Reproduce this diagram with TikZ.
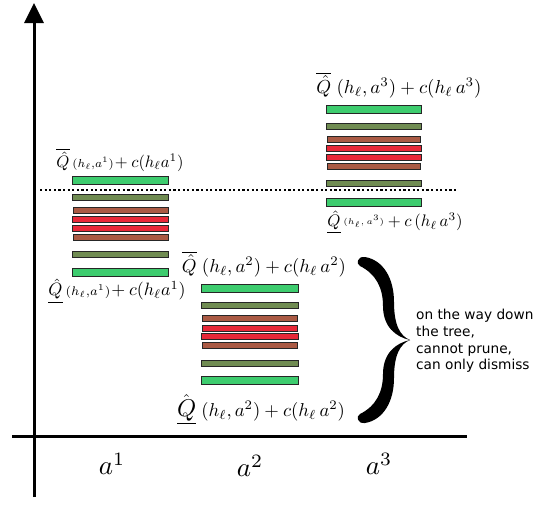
\documentclass[tikz,border=0pt]{standalone}
\usepackage{amsmath}
\usepackage{graphicx}
\usepackage{fontspec}
\newfontfamily\dejavu{DejaVu Sans}
\usetikzlibrary{arrows.meta}
\definecolor{gbar}{RGB}{61,204,110}
\definecolor{obar}{RGB}{112,140,82}
\definecolor{bbar}{RGB}{170,90,68}
\definecolor{rbar}{RGB}{232,40,56}
\tikzset{
  axis/.style={line width=3pt, black},
  bar/.style={draw=black!85, line width=0.8pt},
  gb/.style={bar, fill=gbar},
  ob/.style={bar, fill=obar},
  bb/.style={bar, fill=bbar},
  rb/.style={bar, fill=rbar},
  lbl/.style={inner sep=0pt, anchor=center},
  axl/.style={inner sep=0pt},
  note/.style={inner sep=0pt, align=left, anchor=north west, font=\dejavu\fontsize{13.7}{16.7}\selectfont}
}
\begin{document}
\begin{tikzpicture}[x=1pt,y=-1pt]
\useasboundingbox (0,0) rectangle (551,504);
% axes
\coordinate (ybot) at (34,497);
\coordinate (ytop) at (34,3);
\coordinate (xl) at (12,436);
\coordinate (xr) at (467,436);
\draw[axis, -{Triangle[width=19pt,length=20pt]}] (ybot) -- (ytop);
\draw[axis] (xl) -- (xr);
% dotted threshold
\coordinate (dl) at (40,190);
\coordinate (dr) at (458,190);
\draw[line width=2.2pt, dash pattern=on 2.2pt off 2.4pt] (dl) -- (dr);
% column a1
\draw[gb] (72,176) rectangle (168,184);
\draw[ob] (72,194) rectangle (168,200);
\draw[bb] (73,207) rectangle (168,213);
\draw[rb] (72,216) rectangle (168,222);
\draw[rb] (72,225) rectangle (168,231);
\draw[bb] (73,234) rectangle (168,240);
\draw[ob] (72,251) rectangle (168,257);
\draw[gb] (72,268) rectangle (168,276);
% column a2
\draw[gb] (201,284) rectangle (298,292);
\draw[ob] (201,302) rectangle (298,308);
\draw[bb] (202,315) rectangle (297,321);
\draw[rb] (202,325) rectangle (297,331);
\draw[rb] (201,333) rectangle (298,339);
\draw[bb] (202,342) rectangle (297,348);
\draw[ob] (201,360) rectangle (298,366);
\draw[gb] (201,376) rectangle (298,384);
% column a3
\draw[gb] (326,105) rectangle (421,113);
\draw[ob] (326,123) rectangle (421,129);
\draw[bb] (327,136) rectangle (420,142);
\draw[rb] (326,145) rectangle (421,151);
\draw[rb] (326,154) rectangle (421,160);
\draw[bb] (327,163) rectangle (420,169);
\draw[ob] (326,180) rectangle (421,186);
\draw[gb] (326,198) rectangle (421,206);
% labels
\node[lbl] (t1) at (120,160) {\resizebox{127pt}{!}{$\overline{\hat{Q}}\,{\scriptstyle(h_\ell,a^1)}\!+c(h_\ell a^1)$}};
\node[lbl] (b1) at (117,291) {\resizebox{137pt}{!}{$\underline{\hat{Q}}\,{\scriptstyle(h_\ell,a^1)}\!+c(h_\ell a^1)$}};
\node[lbl] (t2) at (264,264) {\resizebox{164pt}{!}{$\overline{\hat{Q}}\;(h_\ell,a^2)+c(h_\ell\,a^2)$}};
\node[lbl] (b2) at (261,410) {\resizebox{168pt}{!}{$\underline{\hat{\scalebox{1.3}{$Q$}}}\;(h_\ell,a^2)+c(h_\ell\,a^2)$}};
\node[lbl] (t3) at (399,85) {\resizebox{165pt}{!}{$\overline{\hat{Q}}\;(h_\ell,a^3)+c(h_\ell\,a^3)$}};
\node[lbl] (b3) at (395,222) {\resizebox{135pt}{!}{$\underline{\hat{Q}}\,\raisebox{1.5pt}{$\scriptscriptstyle(h_\ell,\,a^3)$}+c\,(h_\ell\,a^3)$}};
% axis labels
\node[axl] (a1) at (112,464) {\scalebox{2.7}{$a^1$}};
\node[axl] (a2) at (250,466) {\scalebox{2.7}{$a^2$}};
\node[axl] (a3) at (379,464) {\scalebox{2.7}{$a^3$}};
% brace
\fill (410,340) .. controls (396,337) and (383,327) .. (383,306)
  .. controls (383,288) and (376,274) .. (360,266)
  .. controls (356,264) and (357,256) .. (365,257)
  .. controls (383,260) and (394,278) .. (394,302)
  .. controls (394,325) and (400,336) .. (410,340) -- cycle;
\fill (410,340) .. controls (396,343) and (383,353) .. (383,374)
  .. controls (383,392) and (376,406) .. (360,414)
  .. controls (356,416) and (357,424) .. (365,423)
  .. controls (383,420) and (394,402) .. (394,378)
  .. controls (394,355) and (400,344) .. (410,340) -- cycle;
\coordinate (brace) at (410,340);
% note
\node[note] (txt) at (416,309) {on the way down\\the tree,\\cannot prune,\\can only dismiss};
\end{tikzpicture}
\end{document}
